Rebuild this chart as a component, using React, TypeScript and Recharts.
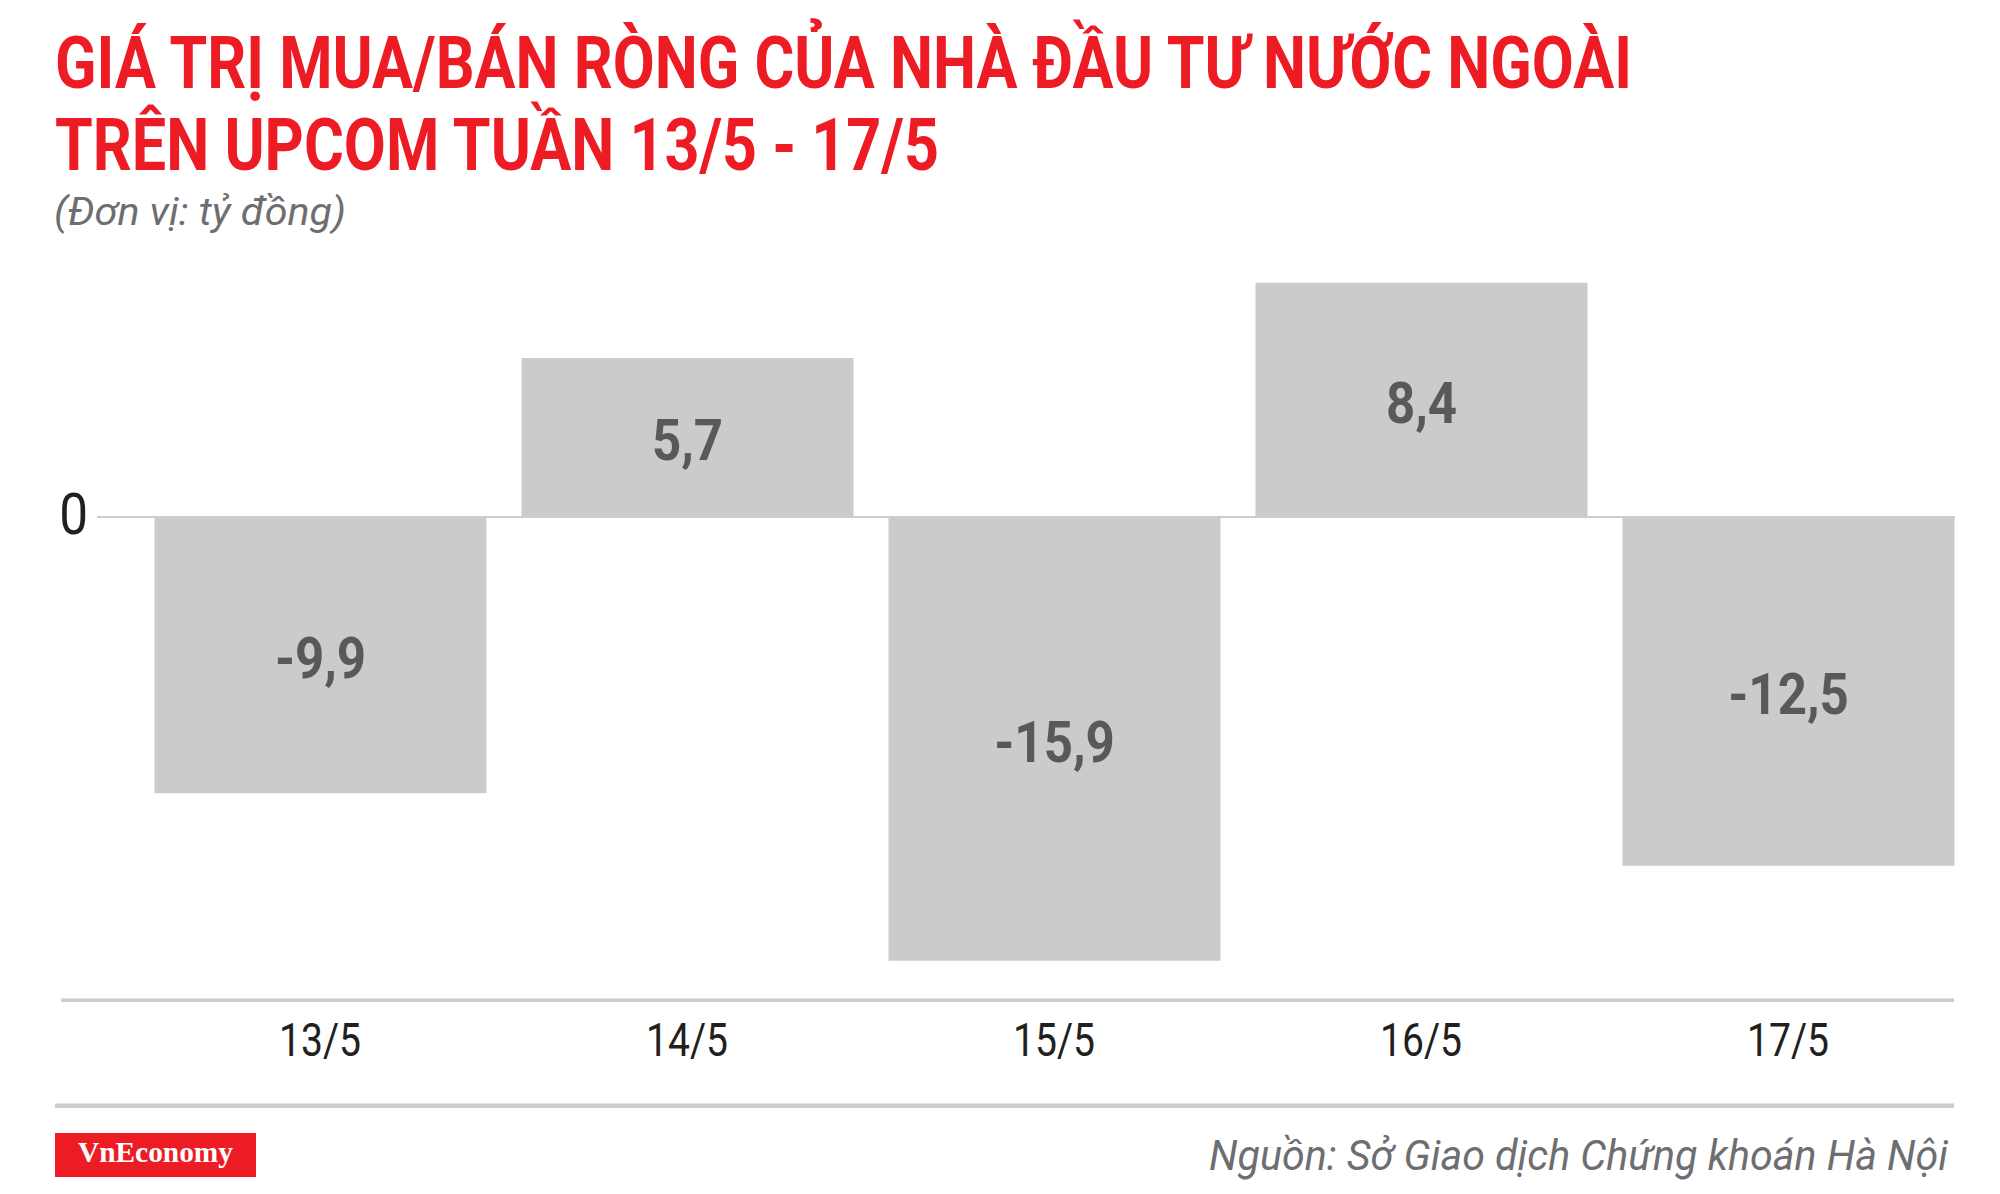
import React from 'react';
import { BarChart, Bar, XAxis, YAxis, ReferenceLine, LabelList } from 'recharts';

const days = ['13/5', '14/5', '15/5', '16/5', '17/5'];
const netValues = [-9.9, 5.7, -15.9, 8.4, -12.5];
const yTicks = [0];

const RED = '#ed1c24';
const BAR = '#cccbcc';
const RULE = '#cccccc';

const chartData = days.map((day, i) => ({ day, value: netValues[i] }));

const fmt = (v: number) => v.toFixed(1).replace('.', ',');

const XTick = (props: any) => {
  const { x, y, payload } = props;
  return (
    <text
      transform={`translate(${x} ${y + 56}) scale(0.85 1)`}
      textAnchor="middle"
      fontFamily="Roboto"
      fontSize={46}
      fill="#231f20"
    >
      {payload.value}
    </text>
  );
};

const YTick = (props: any) => {
  const { x, y, payload } = props;
  return (
    <text
      transform={`translate(${x} ${y + 17}) scale(0.9 1)`}
      textAnchor="end"
      fontFamily="Roboto"
      fontSize={57}
      fill="#231f20"
    >
      {payload.value}
    </text>
  );
};

const ValueLabel = (props: any) => {
  const { x, y, width, height, value } = props;
  const cx = x + width / 2;
  const cy = y + height / 2 + 23;
  return (
    <text
      transform={`translate(${cx} ${cy}) scale(0.88 1)`}
      textAnchor="middle"
      fontFamily="Roboto"
      fontWeight={700}
      fontSize={58}
      fill="#58595b"
    >
      {fmt(value)}
    </text>
  );
};

export default function App() {
  return (
    <div style={{ position: 'absolute', left: 0, top: 0, width: 2000, height: 1194, background: '#fff' }}>
      <svg width={2000} height={1194} style={{ position: 'absolute', left: 0, top: 0 }}>
        <text x={55} y={88} fontFamily="Roboto" fontWeight={700} fontSize={72} fill={RED} textLength={1577} lengthAdjust="spacingAndGlyphs">
          GIÁ TRỊ MUA/BÁN RÒNG CỦA NHÀ ĐẦU TƯ NƯỚC NGOÀI
        </text>
        <text x={55} y={170} fontFamily="Roboto" fontWeight={700} fontSize={72} fill={RED} textLength={884} lengthAdjust="spacingAndGlyphs">
          TRÊN UPCOM TUẦN 13/5 - 17/5
        </text>
        <text x={54} y={225} fontFamily="Roboto" fontStyle="italic" fontSize={38} fill="#6d6e71" textLength={292} lengthAdjust="spacingAndGlyphs">
          (Đơn vị: tỷ đồng)
        </text>
        <rect x={61} y={998.5} width={1893} height={3.5} fill={RULE} />
        <rect x={55} y={1103.5} width={1899} height={4.5} fill={RULE} />
        <rect x={55} y={1133} width={201} height={44} fill={RED} />
        <text x={78} y={1162} fontFamily="'Liberation Serif'" fontWeight={700} fontSize={30} fill="#fff" textLength={155} lengthAdjust="spacingAndGlyphs">
          VnEconomy
        </text>
        <text x={1948} y={1170} textAnchor="end" fontFamily="Roboto" fontStyle="italic" fontSize={42} fill="#6d6e71" textLength={739} lengthAdjust="spacingAndGlyphs">
          Nguồn: Sở Giao dịch Chứng khoán Hà Nội
        </text>
      </svg>
      {/* clip the plot at the right edge of the last bar, like the original */}
      <div style={{ position: 'absolute', left: 0, top: 0, width: 1955, height: 1194, overflow: 'hidden' }}>
        <BarChart
          width={2000}
          height={1194}
          data={chartData}
          margin={{ top: 182.2, right: 28.5, bottom: 134.3, left: 0 }}
        >
          <XAxis
            dataKey="day"
            axisLine={false}
            tickLine={false}
            tickSize={0}
            tickMargin={0}
            height={60}
            interval={0}
            tick={XTick}
          />
          <YAxis
            type="number"
            domain={[-17.3, 12]}
            ticks={yTicks}
            width={136.5}
            axisLine={false}
            tickLine={{ stroke: RULE, strokeWidth: 2 }}
            tickSize={39.5}
            tickMargin={9}
            tick={YTick}
            allowDataOverflow
          />
          <ReferenceLine y={0} stroke={RULE} strokeWidth={2} />
          <Bar dataKey="value" fill={BAR} barSize={332} isAnimationActive={false}>
            <LabelList dataKey="value" content={ValueLabel} />
          </Bar>
        </BarChart>
      </div>
    </div>
  );
}
